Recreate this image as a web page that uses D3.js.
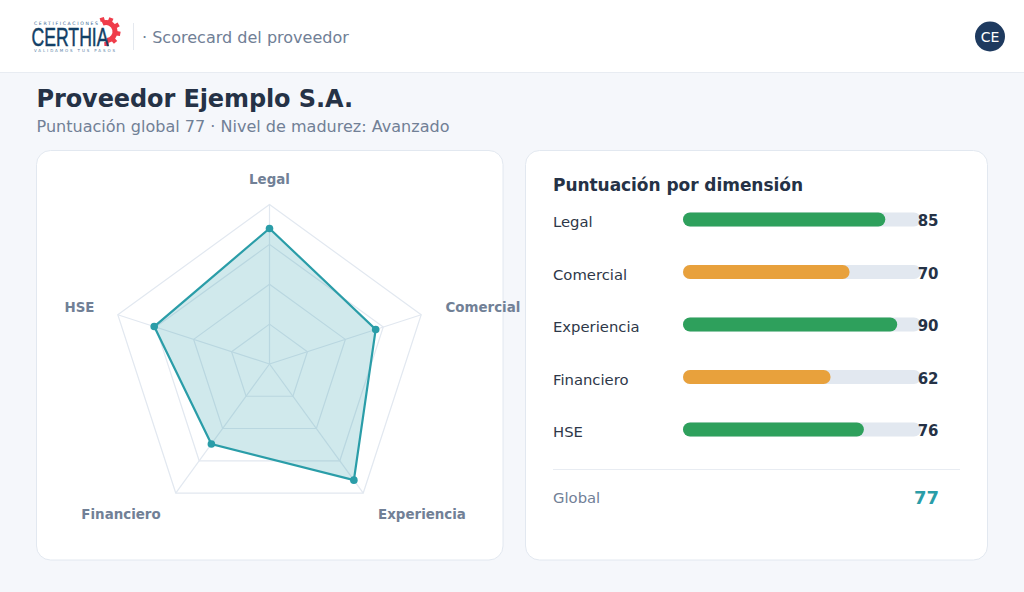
<!DOCTYPE html>
<html><head><meta charset="utf-8">
<script src="https://cdn.jsdelivr.net/npm/d3@7"></script>
<style>html,body{margin:0;padding:0;background:#f5f7fb;overflow:hidden}svg{display:block}text{font-family:"DejaVu Sans",sans-serif}</style>
</head><body><svg id="c" width="1024" height="592"></svg>
<script>
const categories=["Legal","Comercial","Experiencia","Financiero","HSE"];
const scores=[85,70,90,62,76];
const barColors=["#2ea05c","#e8a13c","#2ea05c","#e8a13c","#2ea05c"];
const ringLevels=[25,50,75,100];
const globalScore=77;
const svg=d3.select("#c");
svg.append("rect").attr("width",1024).attr("height",592).attr("fill","#f5f7fb");
svg.append("rect").attr("width",1024).attr("height",72).attr("fill","#fff");
svg.append("line").attr("x1",0).attr("x2",1024).attr("y1",72.5).attr("y2",72.5).attr("stroke","#e8ecf2");
function t(x,y,s,size,fill,weight,anchor){return svg.append("text").attr("x",x).attr("y",y).text(s).attr("font-size",size).attr("fill",fill).attr("font-weight",weight||400).attr("text-anchor",anchor||"start");}
// logo
const gear=svg.append("g").attr("transform","translate(106,31.5)");
gear.append("path").attr("d",d3.arc()({innerRadius:6.5,outerRadius:11.5,startAngle:-0.4,endAngle:Math.PI*0.97})).attr("fill","#ef3d4b");
d3.range(-0.3,3.2,0.68).forEach(a=>gear.append("rect").attr("x",-2.2).attr("y",-14.5).attr("width",4.4).attr("height",4).attr("fill","#ef3d4b").attr("transform",`rotate(${a*180/Math.PI})`));
t(34,24.5,"CERTIFICACIONES",4.6,"#3d6a94",400).attr("textLength",64).attr("lengthAdjust","spacing");
t(31.5,46,"CERTHIA",26,"#123f66",400).attr("textLength",77).attr("lengthAdjust","spacingAndGlyphs").attr("stroke","#123f66").attr("stroke-width",.5).style("font-family","'Liberation Sans'");
t(34,52,"VALIDAMOS TUS PASOS",4,"#5c84a8",400).attr("textLength",81).attr("lengthAdjust","spacing");
svg.append("line").attr("x1",133.5).attr("x2",133.5).attr("y1",23).attr("y2",50).attr("stroke","#e5e9ef");
t(142,43,"· Scorecard del proveedor",16.05,"#718096");
svg.append("circle").attr("cx",990).attr("cy",36.5).attr("r",15).attr("fill","#1e3a5f");
t(990,42,"CE",14,"#fff",400,"middle");
t(36.5,107,"Proveedor Ejemplo S.A.",24,"#253246",700).attr("textLength",316.5).attr("lengthAdjust","spacing");
t(36.5,132,"Puntuación global 77 · Nivel de madurez: Avanzado",16.05,"#718096");
[[37,151,466,409],[526,151,461.5,409]].forEach(([x,y,w,h])=>svg.append("rect").attr("x",x-.5).attr("y",y-.5).attr("width",w+.5).attr("height",h+.5).attr("rx",14).attr("fill","#fff").attr("stroke","#e2e8f0"));
// radar
const cx=269.5,cy=364,R=159.5;
const rS=d3.scaleLinear().domain([0,100]).range([0,R]);
const ang=d3.scalePoint().domain(categories).range([0,2*Math.PI*4/5]);
const pt=(c,v)=>[cx+rS(v)*Math.sin(ang(c)),cy-rS(v)*Math.cos(ang(c))];
const line=d3.line().curve(d3.curveLinearClosed);
ringLevels.forEach(l=>svg.append("path").attr("d",line(categories.map(c=>pt(c,l)))).attr("fill","none").attr("stroke","#e2e8f0").attr("stroke-width",1.2));
categories.forEach(c=>{const p=pt(c,100);svg.append("line").attr("x1",cx).attr("y1",cy).attr("x2",p[0]).attr("y2",p[1]).attr("stroke","#e2e8f0").attr("stroke-width",1.2);});
const poly=categories.map((c,i)=>pt(c,scores[i]));
svg.append("path").attr("d",line(poly)).attr("fill","#2a9da8").attr("fill-opacity",.22).attr("stroke","#2a9da8").attr("stroke-width",2.2);
svg.selectAll("circle.p").data(poly).join("circle").attr("class","p").attr("cx",d=>d[0]).attr("cy",d=>d[1]).attr("r",3.8).attr("fill","#2a9da8");
const labelPos=[[269.5,184,"middle"],[445.5,312,"start"],[422,518.5,"middle"],[121,518.5,"middle"],[79.5,312,"middle"]];
categories.forEach((c,i)=>t(labelPos[i][0],labelPos[i][1],c,13.4,"#718096",700,labelPos[i][2]));
// bars
t(553,191,"Puntuación por dimensión",17,"#253246",700).attr("textLength",250).attr("lengthAdjust","spacing");
const x=d3.scaleLinear().domain([0,100]).range([683,921]);
const y=d3.scalePoint().domain(categories).range([219.5,429.5]);
categories.forEach((c,i)=>{
 const yy=y(c);
 t(553,yy+7.5,c,14.8,"#2d3748");
 svg.append("rect").attr("x",x(0)).attr("y",yy-7).attr("width",x(100)-x(0)).attr("height",14).attr("rx",7).attr("fill","#e2e8f0");
 svg.append("rect").attr("x",x(0)).attr("y",yy-7).attr("width",x(scores[i])-x(0)).attr("height",14).attr("rx",7).attr("fill",barColors[i]);
 t(938.5,yy+6.5,scores[i],15,"#253246",700,"end");
});
svg.append("line").attr("x1",553).attr("x2",960).attr("y1",469.5).attr("y2",469.5).attr("stroke","#e8ecf2");
t(553,503,"Global",14.8,"#718096");
t(939,503.5,globalScore,18,"#2a9da8",700,"end");
</script></body></html>
